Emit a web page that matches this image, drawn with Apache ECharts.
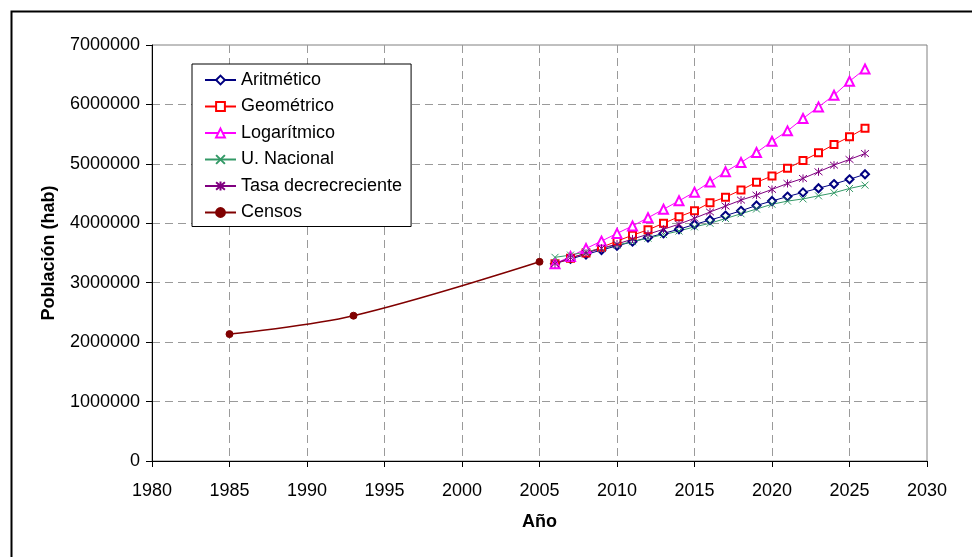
<!DOCTYPE html>
<html>
<head>
<meta charset="utf-8">
<script src="https://cdn.jsdelivr.net/npm/echarts@6/dist/echarts.min.js"></script>
<style>
html,body{margin:0;padding:0;background:#fff;}
#chart{width:972px;height:557px;}
</style>
</head>
<body>
<div id="chart"></div>
<script>
// ---- data ----
const projYears = [2006,2007,2008,2009,2010,2011,2012,2013,2014,2015,2016,2017,2018,2019,2020,2021,2022,2023,2024,2025,2026];
const aritmetico = [3320000,3400000,3475000,3550000,3620000,3690000,3760000,3830000,3900000,3980000,4055000,4130000,4210000,4300000,4375000,4450000,4520000,4590000,4660000,4740000,4825000];
const geometrico = [3320000,3410000,3500000,3595000,3700000,3800000,3890000,4000000,4110000,4210000,4345000,4440000,4560000,4690000,4795000,4925000,5055000,5185000,5325000,5455000,5600000];
const logaritmico = [3320000,3440000,3575000,3700000,3830000,3955000,4093000,4235000,4378000,4524000,4695000,4866000,5023000,5190000,5380000,5555000,5763000,5958000,6155000,6390000,6597000];
const uNacional = [3427000,3465000,3520000,3575000,3635000,3690000,3750000,3810000,3870000,3940000,4000000,4080000,4160000,4240000,4320000,4373000,4410000,4462000,4513000,4586000,4642000];
const tasaDecreciente = [3320000,3420000,3495000,3580000,3650000,3735000,3815000,3900000,3985000,4085000,4190000,4290000,4390000,4474000,4570000,4670000,4755000,4866000,4978000,5074000,5174000];
const censosYears = [1985,1993,2005];
const censos = [2135000,2445000,3352000];
const seriesNames = ['Aritmético','Geométrico','Logarítmico','U. Nacional','Tasa decrecreciente','Censos'];
const yTicks = {min:0, max:7000000, interval:1000000};
const xTicks = {min:1980, max:2030, interval:5};

const pair = (xs, ys) => xs.map((x,i)=>[x, ys[i]]);
const FONT = '"Liberation Sans", Arial, sans-serif';

const xPath = 'path://M0,0L10,10M10,0L0,10';
const starPath = 'path://M0,0L10,10M10,0L0,10M5,-1L5,11';

function lineSeries(name, data, color, symbol, size, extra){
  const s = {
    name, type:'line', data, symbol, symbolSize:size, showSymbol:true,
    lineStyle:{color, width:1},
    itemStyle:{color, borderColor:color, borderWidth:1},
    emphasis:{disabled:true}, animation:false
  };
  return Object.assign(s, extra||{});
}

const chart = echarts.init(document.getElementById('chart'), null, {renderer:'canvas'});
chart.setOption({
  backgroundColor:'#fff',
  animation:false,
  graphic:[{
    type:'rect', left:9, top:9, silent:true,
    shape:{x:0,y:0,width:1000,height:600},
    style:{fill:'none', stroke:'#000', lineWidth:2}
  }],
  grid:{left:152, top:45, width:775, height:416, show:true, borderColor:'#808080', borderWidth:1, backgroundColor:'transparent'},
  legend:{
    orient:'vertical', left:192, top:64,
    data:seriesNames,
    backgroundColor:'#fff', borderColor:'#000', borderWidth:1,
    padding:[7,9,5,12],
    itemWidth:31, itemHeight:11, itemGap:8.5,
    textStyle:{fontFamily:FONT, fontSize:18, color:'#000', lineHeight:18, padding:[0,0,0,0]},
    selectedMode:false
  },
  xAxis:{
    type:'value', min:xTicks.min, max:xTicks.max, interval:xTicks.interval,
    name:'Año', nameLocation:'middle', nameGap:52,
    nameTextStyle:{fontFamily:FONT, fontSize:18, fontWeight:'bold', color:'#000'},
    axisLine:{show:true, onZero:false, lineStyle:{color:'#000', width:1}},
    axisTick:{show:true, inside:false, length:6, lineStyle:{color:'#000'}},
    axisLabel:{fontFamily:FONT, fontSize:18, color:'#000', margin:21, formatter:v=>String(v)},
    splitLine:{show:true, showMinLine:false, showMaxLine:false, lineStyle:{color:'#9a9a9a', type:[8,5], width:1}}
  },
  yAxis:{
    type:'value', min:yTicks.min, max:yTicks.max, interval:yTicks.interval,
    name:'Población (hab)', nameLocation:'middle', nameGap:94,
    nameTextStyle:{fontFamily:FONT, fontSize:18, fontWeight:'bold', color:'#000'},
    axisLine:{show:true, lineStyle:{color:'#000', width:1}},
    axisTick:{show:true, inside:false, length:6, lineStyle:{color:'#000'}},
    axisLabel:{fontFamily:FONT, fontSize:18, color:'#000', margin:12, formatter:v=>String(v)},
    splitLine:{show:true, showMinLine:false, showMaxLine:false, lineStyle:{color:'#9a9a9a', type:[8,5], width:1}}
  },
  series:[
    lineSeries(seriesNames[0], pair(projYears, aritmetico), '#000080', 'emptyDiamond', 8),
    lineSeries(seriesNames[1], pair(projYears, geometrico), '#FF0000', 'emptyRect', 7),
    lineSeries(seriesNames[2], pair(projYears, logaritmico), '#FF00FF', 'emptyTriangle', 9),
    lineSeries(seriesNames[3], pair(projYears, uNacional), '#339966', xPath, 7),
    lineSeries(seriesNames[4], pair(projYears, tasaDecreciente), '#800080', starPath, 8),
    lineSeries(seriesNames[5], pair(censosYears, censos), '#800000', 'circle', 7, {smooth:0.35, lineStyle:{color:'#800000', width:1.5}})
  ]
});
</script>
</body>
</html>
